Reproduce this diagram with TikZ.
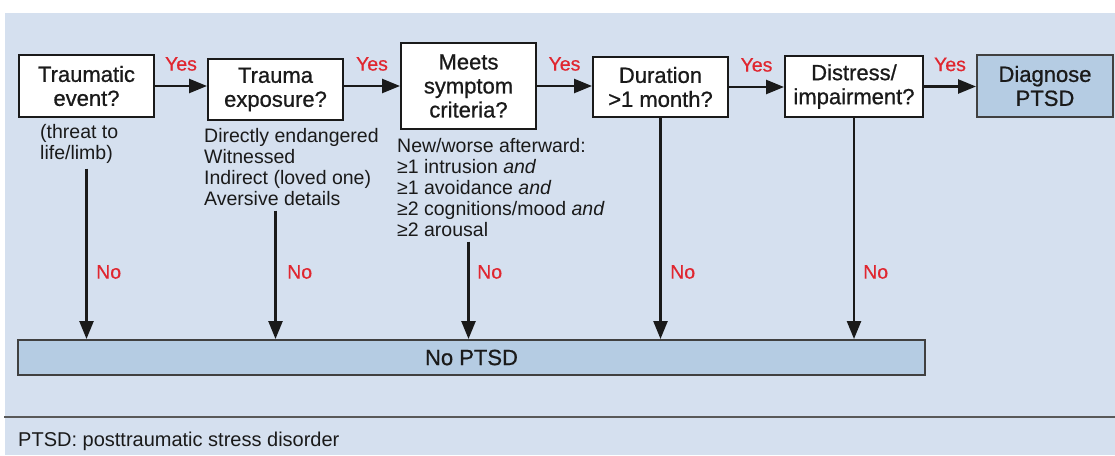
\documentclass[tikz,border=0pt]{standalone}
\usepackage{fontspec}
\setmainfont{Liberation Sans}
\newfontfamily\medfont{Liberation Sans}[FakeBold=0.8]
\newfontfamily\lblfont{Liberation Sans}[FakeBold=0.5]
\usetikzlibrary{arrows.meta}
\definecolor{bg}{HTML}{D5E0EF}
\definecolor{boxblue}{HTML}{B5CCE3}
\definecolor{yesred}{HTML}{E0262F}
\definecolor{txt}{HTML}{1A1A1A}
\begin{document}
\begin{tikzpicture}[x=1pt,y=-1pt,
  qbox/.style={draw=txt, line width=2pt, fill=white, inner sep=0pt, align=center,
    font=\medfont\fontsize{22}{24}\selectfont, text=txt},
  endbox/.style={qbox, fill=boxblue, draw=black!75},
  note/.style={anchor=north west, inner sep=0pt, align=left,
    font=\fontsize{19.5}{21}\selectfont, text=txt},
  arr/.style={line width=2.5pt, draw=txt, -{Triangle[length=18pt,width=14pt]}},
  yes/.style={inner sep=0pt, text=yesred, font=\lblfont\fontsize{19.5}{21}\selectfont},
  no/.style={yes, anchor=west}
]
\useasboundingbox (0,0) rectangle (1115,455);
\fill[white] (0,0) rectangle (1115,455);
\fill[bg] (5,13) rectangle (1115,455);
\draw[line width=2.5pt, draw=black!65] (4,417) -- (1115,417);

% decision boxes
\node[qbox, minimum width=135pt, minimum height=62pt] (te) at (86.5,86) {Traumatic\\event?};
\node[qbox, minimum width=135pt, minimum height=61pt] (tx) at (275.5,89.5) {Trauma\\exposure?};
\node[qbox, minimum width=135pt, minimum height=86pt] (ms) at (468.5,86) {Meets\\symptom\\criteria?};
\node[qbox, minimum width=135pt, minimum height=60pt] (du) at (660.5,87) {Duration\\{>}1 month?};
\node[qbox, minimum width=138pt, minimum height=61pt] (di) at (854,86.5) {Distress/\\impairment?};
\node[endbox, minimum width=136pt, minimum height=62pt] (dp) at (1045,86) {Diagnose\\PTSD};
\node[endbox, minimum width=907pt, minimum height=35pt] (np) at (471.5,357.5) {No PTSD};

% notes
\node[note] (a1) at (40,124) {(threat to\\life/limb)};
\node[note] (a2) at (204,128) {Directly endangered\\Witnessed\\Indirect (loved one)\\Aversive details};
\node[note] (a3) at (397,138) {New/worse afterward:\\≥1 intrusion \textit{and}\\≥1 avoidance \textit{and}\\≥2 cognitions/mood \textit{and}\\≥2 arousal};

% yes arrows
\draw[arr] (te.east) -- node[yes, above=14pt]{Yes} (te.east -| tx.west);
\draw[arr] (tx.east |- te.east) -- node[yes, above=14pt]{Yes} (te.east -| ms.west);
\draw[arr] (ms.east) -- node[yes, above=14pt]{Yes} (ms.east -| du.west);
\draw[arr] (du.east) -- node[yes, above=14pt]{Yes} (du.east -| di.west);
\draw[arr] (di.east) -- node[yes, above=14pt]{Yes} (di.east -| dp.west);

% no arrows
\draw[arr] ([yshift=-5pt]a1.south -| te.south) -- (te.south |- np.north);
\draw[arr] ([yshift=-5pt]a2.south -| tx.south) -- (tx.south |- np.north);
\draw[arr] ([yshift=-5pt]a3.south -| ms.south) -- (ms.south |- np.north);
\draw[arr] (du.south) -- (du.south |- np.north);
\draw[arr] (di.south) -- (di.south |- np.north);

\node[no] (n1) at (96,272) {No};
\node[no] (n2) at (287,272) {No};
\node[no] (n3) at (477,272) {No};
\node[no] (n4) at (670,272) {No};
\node[no] (n5) at (863,272) {No};

% footer
\node[anchor=base west, inner sep=0pt, text=txt, font=\fontsize{20}{22}\selectfont] (ft) at (18,446) {PTSD: posttraumatic stress disorder};
\end{tikzpicture}
\end{document}
